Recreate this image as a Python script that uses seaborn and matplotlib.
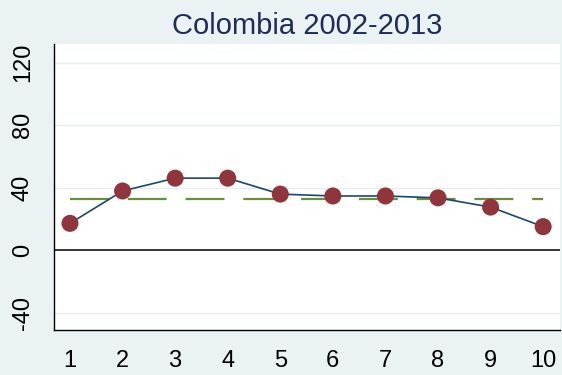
import matplotlib
matplotlib.use("Agg")
import matplotlib.pyplot as plt
import seaborn as sns
import numpy as np
import pandas as pd

# Values per period
periods = [1, 2, 3, 4, 5, 6, 7, 8, 9, 10]
values = [17.3, 38.0, 46.2, 46.2, 36.0, 34.8, 34.8, 33.6, 27.7, 15.2]
title = "Colombia 2002-2013"
yticks = [-40, 0, 40, 80, 120]

df = pd.DataFrame({"period": periods, "value": values})
mean_val = float(np.mean(values))

sns.set_style("white")
plt.rcParams["font.family"] = ["Liberation Sans", "DejaVu Sans"]
plt.rcParams["axes.unicode_minus"] = False

bg = "#eaf2f3"
fig = plt.figure(figsize=(5.62, 3.75), dpi=100, facecolor=bg)
ax = fig.add_axes([0.0961, 0.12, 0.9003, 0.7627])
ax.set_facecolor("white")

# horizontal grid lines
for t in yticks:
    if t != 0:
        ax.axhline(t, color="#e6eef0", lw=1.0, zorder=0)
ax.axhline(0, color="black", lw=1.1, zorder=1)

# mean reference line
ax.plot([periods[0], periods[-1]], [mean_val, mean_val], color="#6b8e3e",
        lw=1.6, dashes=(17.5, 8.5), zorder=2)

sns.lineplot(data=df, x="period", y="value", ax=ax, color="#1a476f",
             lw=1.2, zorder=3)
sns.scatterplot(data=df, x="period", y="value", ax=ax, color="#90353b",
                s=150, edgecolor="none", zorder=4)

ax.set_xlim(0.696, 10.32)
ax.set_ylim(-50.9, 132)
ax.set_xticks(periods)
ax.set_yticks(yticks)
ax.set_xlabel("")
ax.set_ylabel("")
ax.tick_params(axis="both", which="both", direction="out", length=8.5,
               width=1, color="black", labelsize=17, labelcolor="black", pad=6)
for lab in ax.get_yticklabels():
    lab.set_rotation(90)
    lab.set_va("center")

for s in ["top", "right"]:
    ax.spines[s].set_visible(False)
for s in ["left", "bottom"]:
    ax.spines[s].set_visible(True)
    ax.spines[s].set_color("black")
    ax.spines[s].set_linewidth(1.0)

ax.set_title(title, fontsize=21, color="#1e2d57", pad=7)

fig.savefig("out.png", dpi=100, facecolor=bg)
